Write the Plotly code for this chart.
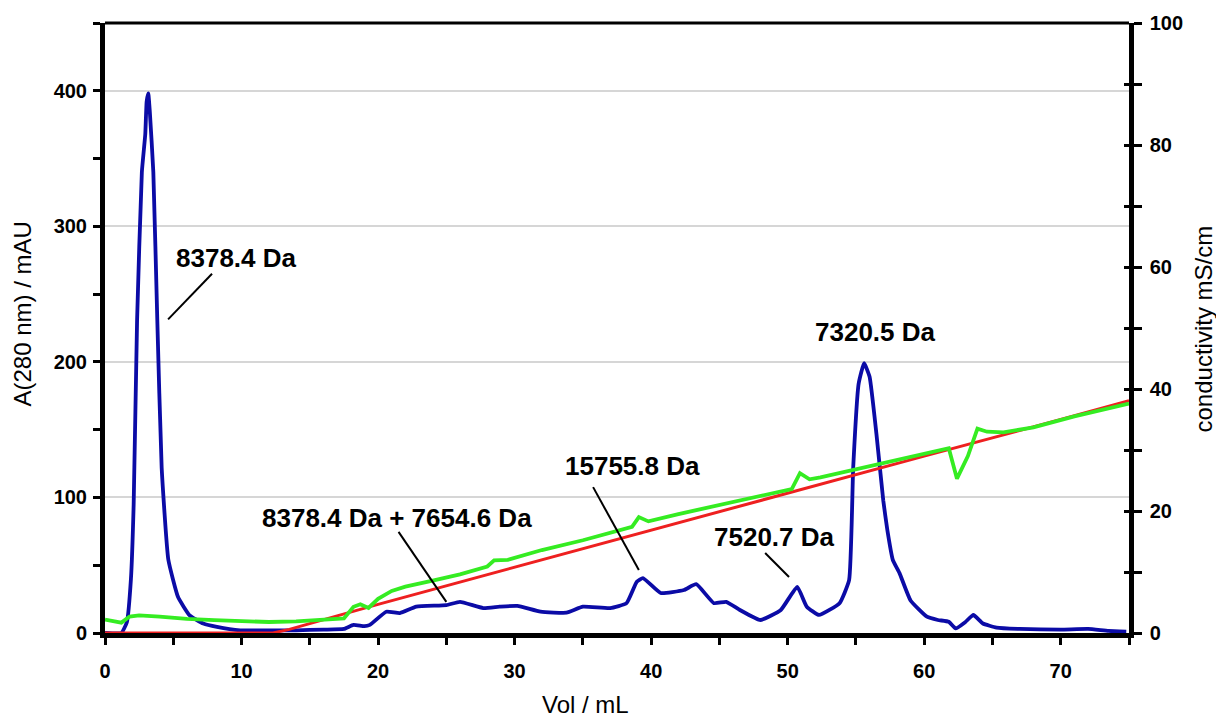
import plotly.graph_objects as go

# ---- data ----
vol_a280 = [0, 1.2, 1.6, 1.9, 2.1, 2.35, 2.7, 2.95, 3.05, 3.17, 3.28, 3.54, 3.83, 4.15, 4.64, 5.35,
            6.2, 7.2, 8.2, 9.9, 12, 14, 16, 17.5, 18.2, 19.0, 19.4, 20.6, 21.6, 22.8, 25, 26, 27.7,
            28.9, 30.2, 31.9, 33.8, 35, 37, 38.2, 38.95, 39.4, 40.7, 42.4, 43.3, 44.6, 45.5, 46.5,
            48, 49.5, 50.7, 51.4, 52.3, 53.8, 54.5, 54.8, 55.2, 55.6, 56.0, 56.5, 57.0, 57.3, 57.7,
            58.2, 59.0, 60.2, 61.0, 61.8, 62.3, 63.0, 63.6, 64.3, 65.3, 67, 70, 72, 73.5, 74.8]
a280 = [0, 0, 8, 40, 95, 231, 340, 368, 392, 398, 385, 340, 231, 122, 54, 26.5,
        13, 7, 4.5, 2, 2, 2, 2.5, 3, 6, 5, 6, 15.7, 14.7, 19.4, 20.6, 23, 18.4,
        19.4, 20, 15.7, 15, 19.4, 18.4, 22, 37.8, 40.5, 29.5, 31.7, 36, 22, 23, 17,
        9.6, 17, 34, 19.4, 13.3, 22, 39, 122, 184, 199, 189, 147, 98, 76, 54,
        44, 24, 12, 9.6, 8.3, 3.4, 8, 13.3, 7, 4, 3, 2.5, 3, 1.5, 1]

vol_grad = [0, 12.3, 13.5, 15, 17, 20, 30, 40, 50, 60, 70, 75]
cond_grad = [0, 0, 0.6, 1.5, 2.8, 4.7, 10.8, 16.8, 22.9, 29.0, 35.0, 38.1]

vol_cond = [0, 0.6, 1.2, 1.8, 2.5, 4, 6, 8, 10, 12, 14, 16, 17.5, 18.2, 18.7, 19.3, 20, 21, 22,
            24, 26, 28, 28.5, 29.5, 32, 35, 38, 38.6, 39.1, 39.8, 42, 45, 48, 50.3, 50.9, 51.6,
            52.4, 55, 58, 61.8, 62.4, 63.2, 63.9, 64.6, 65.8, 68, 71, 75]
cond = [2.2, 2.0, 1.7, 2.7, 2.9, 2.7, 2.3, 2.1, 1.9, 1.8, 1.9, 2.1, 2.4, 4.3, 4.7, 4.1, 5.6, 6.9, 7.6,
        8.6, 9.6, 10.9, 11.9, 12.0, 13.6, 15.2, 17.0, 17.4, 19.0, 18.3, 19.5, 21.0, 22.6, 23.6, 26.2, 25.2,
        25.5, 26.8, 28.4, 30.3, 25.3, 29.0, 33.5, 33.0, 32.9, 33.7, 35.5, 37.6]

x_ticks = [0, 10, 20, 30, 40, 50, 60, 70]
y_left_ticks = [0, 100, 200, 300, 400]
y_right_ticks = [0, 20, 40, 60, 80, 100]

# peak labels: text, label position (vol, A280), leader line (from, to) or None
peak_labels = ["8378.4 Da", "8378.4 Da + 7654.6 Da", "15755.8 Da", "7520.7 Da", "7320.5 Da"]
label_x = [9.6, 21.4, 38.6, 49.0, 56.4]
label_y = [277, 85, 123, 71, 222]
leader_x0 = [7.84, 21.5, 35.75, 48.35, None]
leader_y0 = [265, 74.6, 107.6, 59, None]
leader_x1 = [4.62, 25.0, 39.1, 50.1, None]
leader_y1 = [231.4, 23, 46.4, 41.3, None]

BLUE = "#0b0ba6"
RED = "#ee2020"
GREEN = "#35ec22"
FONT = "Liberation Sans"

fig = go.Figure()
fig.add_trace(go.Scatter(x=vol_grad, y=cond_grad, mode="lines", yaxis="y2",
                         line=dict(color=RED, width=3), showlegend=False))
fig.add_trace(go.Scatter(x=vol_cond, y=cond, mode="lines", yaxis="y2",
                         line=dict(color=GREEN, width=3.8), showlegend=False))
fig.add_trace(go.Scatter(x=vol_a280, y=a280, mode="lines", yaxis="y",
                         line=dict(color=BLUE, width=3.8, shape="spline", smoothing=0.4),
                         showlegend=False))

tickfont = dict(family=FONT, size=20, color="black", weight="bold")

fig.update_layout(
    width=1216, height=722,
    margin=dict(l=105, r=87, t=20, b=89),
    plot_bgcolor="white", paper_bgcolor="white",
    xaxis=dict(range=[0, 75], tickvals=x_ticks, ticks="outside", ticklen=7, tickwidth=3,
               tickcolor="black", showline=True, linewidth=4.5, linecolor="black",
               showgrid=False, zeroline=False, tickfont=tickfont, ticklabelstandoff=9,
               minor=dict(dtick=5, ticks="outside", ticklen=7, tickwidth=3, tickcolor="black",
                          showgrid=False)),
    yaxis=dict(range=[0, 450], tickvals=y_left_ticks, ticks="outside", ticklen=7, tickwidth=3,
               tickcolor="black", showline=True, linewidth=5, linecolor="black",
               showgrid=True, gridcolor="#d6d6d6", gridwidth=1.5, zeroline=False,
               tickfont=tickfont, ticklabelstandoff=2,
               minor=dict(dtick=50, ticks="outside", ticklen=7, tickwidth=3, tickcolor="black",
                          showgrid=False)),
    yaxis2=dict(range=[0, 100], tickvals=y_right_ticks, overlaying="y", side="right",
                anchor="x", ticks="outside", ticklen=8, tickwidth=3, tickcolor="black",
                showline=True, linewidth=4.5, linecolor="black", showgrid=False,
                zeroline=False, tickfont=tickfont, ticklabelstandoff=4,
                minor=dict(dtick=10, ticks="outside", ticklen=8, tickwidth=3,
                           tickcolor="black", showgrid=False)),
    yaxis3=dict(range=[0, 100], dtick=10, overlaying="y", side="right", anchor="x",
                ticks="inside", ticklen=5, tickwidth=3, tickcolor="black",
                showticklabels=False, showline=False, showgrid=False, zeroline=False),
)
# invisible trace to activate yaxis3 (crossing ticks on the right axis)
fig.add_trace(go.Scatter(x=[None], y=[None], yaxis="y3", showlegend=False, hoverinfo="skip"))

# top frame line
fig.add_shape(type="line", xref="paper", yref="paper", x0=0, x1=1, y0=1, y1=1,
              line=dict(color="black", width=3))

for i, t in enumerate(peak_labels):
    fig.add_annotation(x=label_x[i], y=label_y[i], xref="x", yref="y", text=t,
                       showarrow=False, xanchor="center", yanchor="middle",
                       font=dict(family=FONT, size=26, color="black", weight="bold"))
    if leader_x0[i] is not None:
        fig.add_shape(type="line", xref="x", yref="y", x0=leader_x0[i], y0=leader_y0[i],
                      x1=leader_x1[i], y1=leader_y1[i], line=dict(color="black", width=2))

title_font = dict(family=FONT, size=24, color="black")
fig.add_annotation(text="A(280 nm) / mAU", xref="paper", yref="paper", x=-0.0801, y=0.5237,
                   textangle=-90, showarrow=False, xanchor="center", yanchor="middle",
                   font=title_font)
fig.add_annotation(text="conductivity mS/cm", xref="paper", yref="paper", x=1.0723, y=0.4976,
                   textangle=-90, showarrow=False, xanchor="center", yanchor="middle",
                   font=title_font)
fig.add_annotation(text="Vol / mL", xref="paper", yref="paper", x=0.4697, y=-0.117,
                   showarrow=False, xanchor="center", yanchor="middle", font=title_font)

fig.write_html("out.html",
               config={"displayModeBar": False},
               post_script="document.body.style.margin='0px';"
                           "document.body.style.overflow='hidden';")
